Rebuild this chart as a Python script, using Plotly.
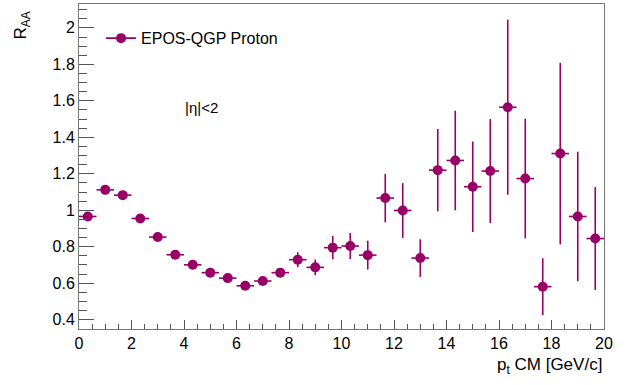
import plotly.graph_objects as go

# bin centres (bins of width 2/3 GeV/c from 0 to 20)
pt = [(i + 0.5) * (2.0 / 3.0) for i in range(30)]
pt_halfwidth = [1.0 / 3.0] * 30
raa = [0.966, 1.112, 1.083, 0.955, 0.853, 0.756, 0.701, 0.658, 0.628, 0.586,
       0.612, 0.658, 0.729, 0.687, 0.795, 0.804, 0.754, 1.067, 0.999, 0.738,
       1.220, 1.273, 1.129, 1.215, 1.565, 1.174, 0.581, 1.311, 0.966, 0.845]
raa_err = [0.010, 0.010, 0.010, 0.010, 0.010, 0.012, 0.012, 0.015, 0.015, 0.017,
           0.020, 0.025, 0.041, 0.043, 0.064, 0.072, 0.079, 0.133, 0.150, 0.103,
           0.226, 0.273, 0.248, 0.285, 0.480, 0.328, 0.156, 0.498, 0.355, 0.282]

COLOR = "#990066"
FONT = "Liberation Sans, Arial, Helvetica, sans-serif"

fig = go.Figure()
fig.add_trace(go.Scatter(
    x=pt, y=raa, mode="markers",
    marker=dict(color=COLOR, size=10),
    error_y=dict(type="data", array=raa_err, color=COLOR, thickness=1.6, width=0),
    error_x=dict(type="data", array=pt_halfwidth, color=COLOR, thickness=1.6, width=0),
    showlegend=False,
))
# legend entry (ROOT-style marker with line)
fig.add_trace(go.Scatter(
    x=[None], y=[None], mode="lines+markers", name="EPOS-QGP Proton",
    marker=dict(color=COLOR, size=10), line=dict(color=COLOR, width=1.6),
))

axis_common = dict(
    showgrid=False, zeroline=False, showline=True, linecolor="#777777", linewidth=1,
    mirror=True, ticks="inside", tickcolor="#555555",
    tickfont=dict(family=FONT, size=16, color="black"),
)
fig.update_xaxes(range=[0, 20], dtick=2, tick0=0, ticklen=9,
                 minor=dict(dtick=0.5, ticklen=5, ticks="inside", tickcolor="#555555"),
                 **axis_common)
fig.update_yaxes(range=[0.349, 2.131], dtick=0.2, tick0=0, ticklen=15,
                 tickformat="~g",
                 minor=dict(dtick=0.05, ticklen=8, ticks="inside", tickcolor="#555555"),
                 **axis_common)

fig.update_layout(
    width=638, height=385,
    margin=dict(l=79, r=34, t=4, b=56),
    paper_bgcolor="white", plot_bgcolor="white",
    font=dict(family=FONT, size=16, color="black"),
    legend=dict(x=0.042, y=0.947, xanchor="left", yanchor="top",
                bgcolor="rgba(0,0,0,0)", font=dict(family=FONT, size=16)),
    annotations=[
        dict(text="|η|<2", x=0.233, y=0.683, xref="paper", yref="paper",
             xanchor="center", yanchor="middle",
             showarrow=False, font=dict(family=FONT, size=15)),
        dict(text="R<sub>AA</sub>", x=-0.108, y=0.935, xref="paper", yref="paper",
             textangle=-90, showarrow=False, xanchor="center", yanchor="middle",
             font=dict(family=FONT, size=17)),
        dict(text="p<sub>t</sub> CM [GeV/c]", x=1.0, y=-0.115, xref="paper", yref="paper",
             showarrow=False, xanchor="right", yanchor="middle",
             font=dict(family=FONT, size=17)),
    ],
)

fig.write_html("out.html")
